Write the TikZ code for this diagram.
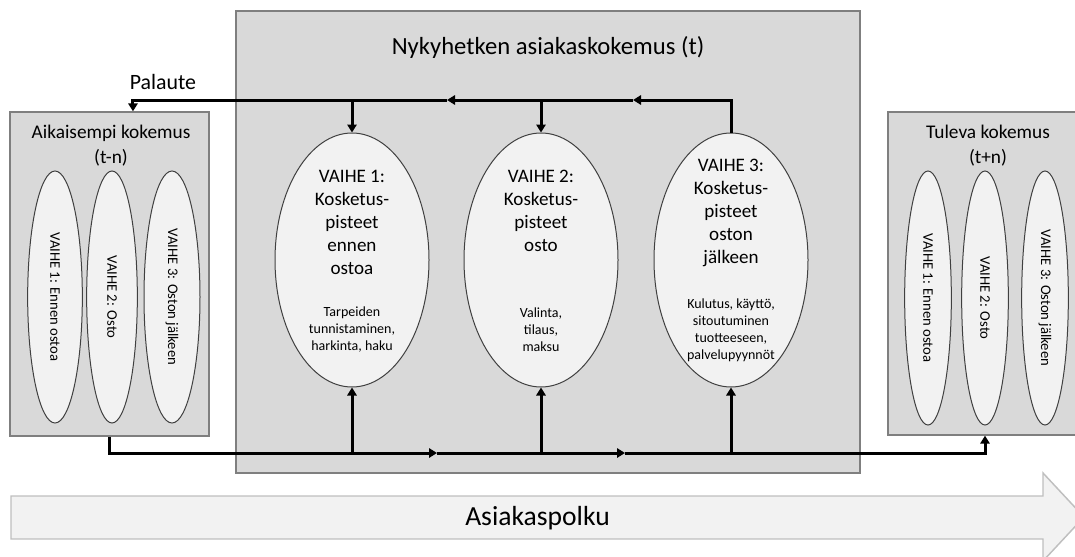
\documentclass[tikz,border=0pt]{standalone}
\usepackage{fontspec}
\setmainfont{Carlito}
\usetikzlibrary{shapes.geometric,arrows.meta}

\tikzset{every picture/.style={line width=0.75pt}}
\tikzset{
  panel/.style={draw={rgb, 255:red, 127; green, 127; blue, 127 }, fill={rgb, 255:red, 217; green, 217; blue, 217 }, line width=1pt, inner sep=0pt},
  phase/.style={ellipse, draw={rgb, 255:red, 64; green, 64; blue, 64 }, fill={rgb, 255:red, 242; green, 242; blue, 242 }, inner sep=0pt, minimum width=115.5pt, minimum height=190.5pt},
  sidephase/.style={ellipse, draw={rgb, 255:red, 64; green, 64; blue, 64 }, fill={rgb, 255:red, 242; green, 242; blue, 242 }, inner sep=0pt, rotate=-90, minimum height=38pt, font=\fontsize{11}{13}\selectfont},
  headtxt/.style={align=center, inner sep=0.75pt, font=\fontsize{14.3}{17.25}\selectfont},
  notetxt/.style={align=center, inner sep=0.75pt, font=\fontsize{10.5}{12.75}\selectfont},
  flow/.style={line width=2.25pt, -{Triangle[width=7pt,length=6pt]}}
}

\begin{document}
\begin{tikzpicture}[x=0.75pt,y=0.75pt,yscale=-1,xscale=1]
\useasboundingbox (0,0) rectangle (1075,557);

%Shape: Rectangle [past]
\node [panel, minimum width=149.25pt, minimum height=243pt] (past) at (109.5,274) {};
%Shape: Rectangle [now]
\node [panel, minimum width=468pt, minimum height=346.5pt] (now) at (548,242) {};
%Shape: Rectangle [future]
\node [panel, minimum width=145.5pt, minimum height=242.25pt] (future) at (985,273.5) {};

% Text Node
\node [align=center, inner sep=0.75pt, font=\fontsize{18.5}{22}\selectfont] (nowtitle) at (548,47) {Nykyhetken asiakaskokemus (t)};
% Text Node
\node [align=center, inner sep=0.75pt, font=\fontsize{14.5}{18.75}\selectfont] (pasttitle) at (111,146) {Aikaisempi kokemus\\(t-n)};
% Text Node
\node [align=center, inner sep=0.75pt, font=\fontsize{14.5}{18.75}\selectfont] (futuretitle) at (988,145.5) {Tuleva kokemus\\(t+n)};
% Text Node
\node [inner sep=0.75pt, font=\fontsize{16.4}{19}\selectfont] (palaute) at (163,82) {Palaute};

%Shape: Ellipse [earlier phases]
\node [sidephase, minimum width=189pt, minimum height=41pt] (p1) at (55,297) {VAIHE 1: Ennen ostoa};
\node [sidephase, minimum width=189pt, minimum height=38pt] (p2) at (112,297) {VAIHE 2: Osto};
\node [sidephase, minimum width=189pt, minimum height=42pt] (p3) at (172,297) {VAIHE 3: Oston jälkeen};

%Shape: Ellipse [future phases]
\node [sidephase, minimum width=190.5pt, minimum height=35pt] (f1) at (928,298) {VAIHE 1: Ennen ostoa};
\node [sidephase, minimum width=190.5pt, minimum height=35pt] (f2) at (985,298) {VAIHE 2: Osto};
\node [sidephase, minimum width=190.5pt, minimum height=35pt] (f3) at (1045,298) {VAIHE 3: Oston jälkeen};

%Shape: Ellipse [current phases]
\node [phase] (v1) at (352,260) {};
\node [phase] (v2) at (541,260) {};
\node [phase] (v3) at (731,260) {};

% Text Node
\node [headtxt] (v1head) at (352,222) {VAIHE 1:\\Kosketus-\\pisteet\\ennen\\ostoa};
\node [notetxt] (v1note) at (352,330) {Tarpeiden\\tunnistaminen,\\harkinta, haku};
% Text Node
\node [headtxt] (v2head) at (541,211) {VAIHE 2:\\Kosketus-\\pisteet\\osto};
\node [notetxt] (v2note) at (541,330) {Valinta,\\tilaus,\\maksu};
% Text Node
\node [headtxt] (v3head) at (731,213) {VAIHE 3:\\Kosketus-\\pisteet\\oston\\jälkeen};
\node [notetxt] (v3note) at (731,330.5) {Kulutus, käyttö,\\sitoutuminen\\tuotteeseen,\\palvelupyynnöt};

%Straight Lines [feedback]
\coordinate (k1) at (633,100);
\coordinate (k2) at (447,100);
\draw [flow] (v3.north) |- (k1);
\draw [flow] (k1) -- (k2);
\draw [flow] (k2) -| ([xshift=17.6pt]past.north);
\draw [flow] (v1.north |- k2) -- (v1.north);
\draw [flow] (v2.north |- k2) -- (v2.north);

%Straight Lines [journey]
\coordinate (j1) at (437,453);
\coordinate (j2) at (625,453);
\draw [flow] (past.south) |- (j1);
\draw [flow] (j1) -- (j2);
\draw [flow] (j2) -| (future.south);
\draw [flow] (v1.south |- j1) -- (v1.south);
\draw [flow] (v2.south |- j1) -- (v2.south);
\draw [flow] (v3.south |- j1) -- (v3.south);

%Shape: Right Arrow
\draw [draw={rgb, 255:red, 191; green, 191; blue, 191 }, fill={rgb, 255:red, 242; green, 242; blue, 242 }, line width=1.1pt] (11,496) -- (1043,496) -- (1043,473) -- (1084,517) -- (1043,561) -- (1043,539) -- (11,539) -- cycle ;
% Text Node
\node [inner sep=0.75pt, font=\fontsize{20.7}{24}\selectfont] (polku) at (537.5,518) {Asiakaspolku};

\end{tikzpicture}
\end{document}
